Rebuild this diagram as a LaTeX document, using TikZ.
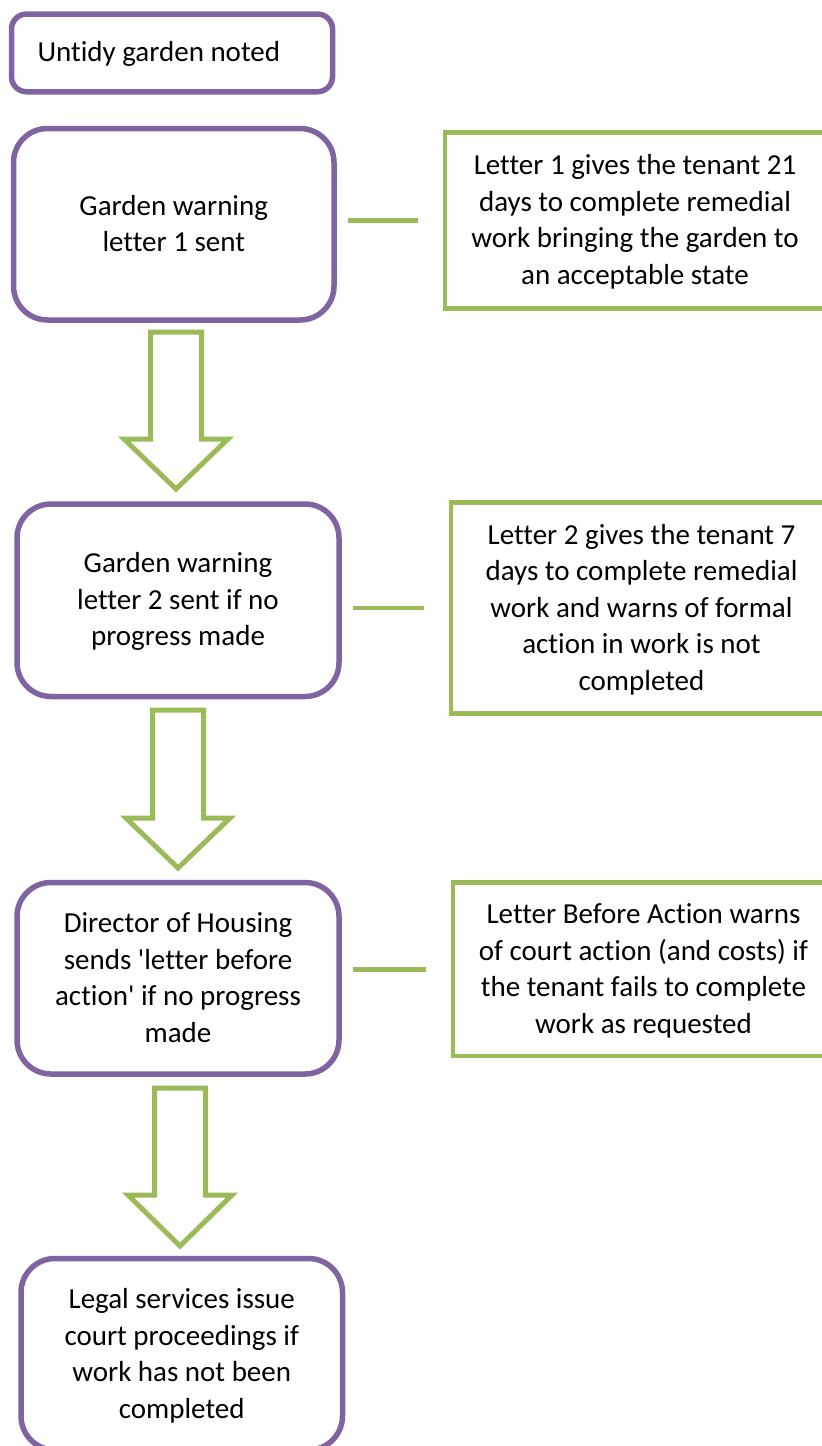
\documentclass[tikz,border=0pt]{standalone}
\usepackage{fontspec}
\setmainfont{Carlito}[Ligatures={NoCommon}]
\usepackage{tikz}
\definecolor{lilac}{HTML}{8064A2}
\definecolor{leaf}{HTML}{9BBB59}
\newcommand{\tstr}{\rule[-9.25pt]{0pt}{36.5pt}}
\newcommand{\tbeg}{\spaceskip=6.55pt\relax\tstr}
\tikzset{
  pbox/.style={draw=lilac,line width=5.5pt,rounded corners=34pt,align=center,text width=300pt,inner sep=0pt},
  gbox/.style={draw=leaf,line width=4.75pt,align=center,text width=360pt,inner sep=0pt},
  link/.style={draw=leaf,line width=4.5pt,shorten <=11pt,shorten >=25pt},
  bigarr/.style={draw=leaf,line width=5pt,line join=miter}
}

\begin{document}
\begin{tikzpicture}[x=1pt,y=-1pt,font=\fontsize{29}{36.5}\selectfont]
\useasboundingbox (0,0) rectangle (822,1446);
\clip (0,0) rectangle (822,1446);
\node[pbox,rounded corners=15pt,align=left,text width=269pt,minimum width=321pt,minimum height=77.7pt] (b0) at (172,52.9) {\tbeg Untidy garden noted\tstr};
\node[pbox,minimum width=320.5pt,minimum height=191.5pt] (b1) at (173.75,224.25) {\tbeg Garden warning\\letter 1 sent\tstr};
\node[pbox,minimum width=322pt,minimum height=192.5pt] (b2) at (178,600.25) {\tbeg Garden warning\\letter 2 sent if no\\progress made\tstr};
\node[pbox,minimum width=322pt,minimum height=191.5pt] (b3) at (178,978.25) {\tbeg Director of Housing\\sends \textquotesingle letter before\\action\textquotesingle\ if no progress\\made\tstr};
\node[pbox,minimum width=321.5pt,minimum height=191.5pt] (b4) at (181.75,1354.25) {\tbeg Legal services issue\\court proceedings if\\work has not been\\completed\tstr};
\node[gbox,minimum width=380pt,minimum height=176pt] (s1) at (635,220.5) {\tbeg Letter 1 gives the tenant 21\\days to complete remedial\\work bringing the garden to\\an acceptable state\tstr};
\node[gbox,minimum width=381pt,minimum height=211pt] (s2) at (641.5,608) {\tbeg Letter 2 gives the tenant 7\\days to complete remedial\\work and warns of formal\\action in work is not\\completed\tstr};
\node[gbox,minimum width=381pt,minimum height=173.5pt] (s3) at (643.5,969.25) {\tbeg Letter Before Action warns\\of court action (and costs) if\\the tenant fails to complete\\work as requested\tstr};
\draw[link] (b1.east |- s1.west) -- (s1.west);
\draw[link] (b2.east |- s2.west) -- (s2.west);
\draw[link] (b3.east |- s3.west) -- (s3.west);
\foreach \cx/\ya/\yb/\yc in {176/332/439/489,178/710/818/868,180/1088/1195/1246}{
  \draw[bigarr] (\cx-25.5,\ya) -- (\cx+25.5,\ya) -- (\cx+25.5,\yb) -- (\cx+52,\yb) -- (\cx,\yc) -- (\cx-52,\yb) -- (\cx-25.5,\yb) -- cycle;
}
\end{tikzpicture}
\end{document}
